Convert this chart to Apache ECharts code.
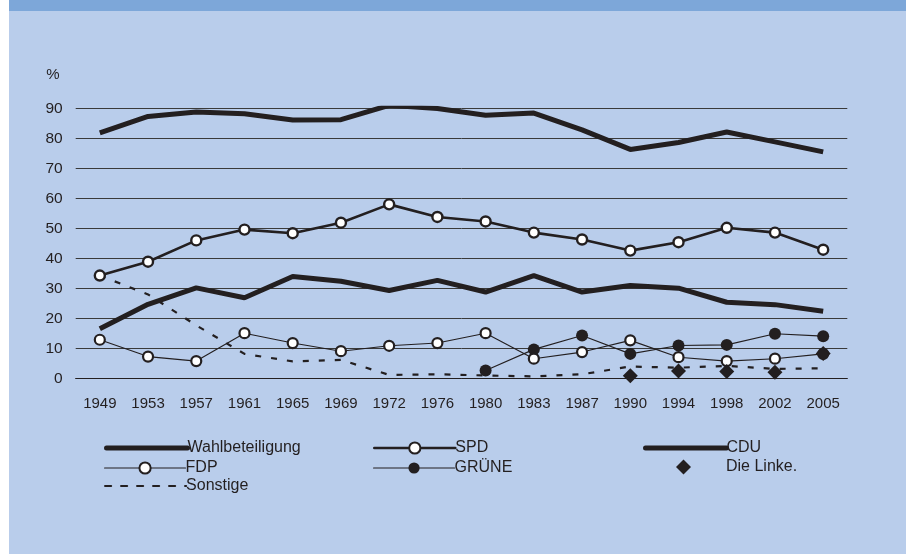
<!DOCTYPE html>
<html>
<head>
<meta charset="utf-8">
<script src="https://cdn.jsdelivr.net/npm/echarts@6/dist/echarts.min.js"></script>
<style>
  html, body { margin: 0; padding: 0; background: #fff; }
  #main { width: 906px; height: 555px; }
</style>
</head>
<body>
<div id="main"></div>
<script>
// Jahre der Bundestagswahlen
var years = ['1949', '1953', '1957', '1961', '1965', '1969', '1972', '1976', '1980', '1983', '1987', '1990', '1994', '1998', '2002', '2005'];
var yTicks = [0, 10, 20, 30, 40, 50, 60, 70, 80, 90];

var wahl = [81.8, 87.3, 88.8, 88.2, 86.1, 86.2, 91.0, 89.9, 87.7, 88.4, 82.8, 76.3, 78.6, 82.1, 78.8, 75.5];
var spd = [34.3, 38.9, 46.0, 49.6, 48.4, 51.9, 58.0, 53.8, 52.3, 48.6, 46.3, 42.6, 45.4, 50.2, 48.6, 42.9];
var cdu = [16.6, 24.7, 30.2, 26.9, 34.0, 32.4, 29.3, 32.7, 28.8, 34.3, 28.8, 31.0, 30.1, 25.4, 24.6, 22.4];
var fdp = [12.9, 7.3, 5.8, 15.1, 11.8, 9.1, 10.9, 11.8, 15.1, 6.6, 8.8, 12.7, 7.1, 5.8, 6.6, 8.2];
var gruene = [null, null, null, null, null, null, null, null, 2.7, 9.7, 14.3, 8.2, 11.0, 11.2, 14.9, 14.1];
var linke = [null, null, null, null, null, null, null, null, null, null, null, 0.9, 2.5, 2.3, 2.1, 8.3];
var sonstige = [34.3, 28.0, 17.7, 8.2, 5.7, 6.2, 1.2, 1.4, 1.0, 0.7, 1.4, 4.0, 3.6, 4.2, 3.2, 3.4];

var ink = '#231f20';
var font = '"Liberation Sans", Arial, sans-serif';

var myChart = echarts.init(document.getElementById('main'));

// eine Legende pro Eintrag, damit das Raster wie im Original aussieht
function legendAt(name, left, top, lineWidth, hideSymbol) {
    var lg = {
        data: [name],
        left: left,
        top: top,
        padding: 0,
        itemWidth: 81,
        itemHeight: 14,
        textStyle: { color: ink, fontSize: 16, fontFamily: font, padding: [0, 0, 0, -5] },
        lineStyle: { width: lineWidth, cap: 'round' }
    };
    if (hideSymbol) lg.itemStyle = { opacity: 0 };
    return lg;
}

var linkeLegend = {
    data: [{ name: 'Die Linke.', icon: 'diamond' }],
    left: 676,
    top: 459,
    padding: 0,
    itemWidth: 15,
    itemHeight: 15,
    textStyle: { color: ink, fontSize: 16, fontFamily: font, padding: [0, 0, 0, 30] }
};

var option = {
    backgroundColor: '#ffffff',
    animation: false,
    graphic: [
        { type: 'rect', left: 9, top: 0, shape: { width: 897, height: 554 }, style: { fill: '#b9cdeb' }, z: -10 },
        { type: 'rect', left: 9, top: 0, shape: { width: 897, height: 11 }, style: { fill: '#7da7d9' }, z: -9 }
    ],
    grid: { left: 75.7, right: 58.7, top: 108.3, bottom: 176.5, containLabel: false },
    legend: [
        legendAt('Wahlbeteiligung', 104, 440, 5, true),
        legendAt('FDP', 104, 460, 1.1, false),
        legendAt('Sonstige', 104, 478, 2.2, true),
        legendAt('SPD', 373, 440, 2.6, false),
        legendAt('GRÜNE', 373, 460, 1.1, false),
        legendAt('CDU', 643, 440, 5, true),
        linkeLegend
    ],
    xAxis: {
        type: 'category',
        data: years,
        axisLine: { lineStyle: { color: ink, width: 1 } },
        axisTick: { length: 5, lineStyle: { color: ink } },
        axisLabel: { color: ink, fontSize: 15, fontFamily: font, margin: 17.5 }
    },
    yAxis: {
        type: 'value',
        min: yTicks[0],
        max: yTicks[yTicks.length - 1],
        interval: 10,
        name: '%',
        nameLocation: 'end',
        nameGap: 26,
        nameTextStyle: { color: ink, fontSize: 15, fontFamily: font, align: 'right', padding: [0, 16, 0, 0] },
        axisLine: { show: false },
        axisTick: { show: false },
        axisLabel: { color: ink, fontSize: 15.5, fontFamily: font, margin: 13 },
        splitLine: { lineStyle: { color: '#3a3a3a', width: 1 } }
    },
    series: [
        {
            name: 'Wahlbeteiligung', type: 'line', data: wahl, symbol: 'none',
            lineStyle: { color: ink, width: 5 }, itemStyle: { color: ink }, z: 3
        },
        {
            name: 'SPD', type: 'line', data: spd, symbol: 'circle', symbolSize: 10,
            lineStyle: { color: ink, width: 2.6 },
            itemStyle: { color: '#ffffff', borderColor: ink, borderWidth: 2.4 }, z: 4
        },
        {
            name: 'CDU', type: 'line', data: cdu, symbol: 'none',
            lineStyle: { color: ink, width: 5 }, itemStyle: { color: ink }, z: 3
        },
        {
            name: 'GRÜNE', type: 'line', data: gruene, symbol: 'circle', symbolSize: 12,
            lineStyle: { color: ink, width: 1.1 },
            itemStyle: { color: ink, borderColor: ink, borderWidth: 0 }, z: 4
        },
        {
            name: 'FDP', type: 'line', data: fdp, symbol: 'circle', symbolSize: 10,
            lineStyle: { color: ink, width: 1.1 },
            itemStyle: { color: '#ffffff', borderColor: ink, borderWidth: 2.2 }, z: 5
        },
        {
            name: 'Sonstige', type: 'line', data: sonstige, symbol: 'none',
            lineStyle: { color: ink, width: 2.2, type: [6, 10] }, itemStyle: { color: ink }, z: 2
        },
        {
            name: 'Die Linke.', type: 'scatter', data: linke, symbol: 'diamond', symbolSize: 15,
            itemStyle: { color: ink, opacity: 1 }, z: 6
        }
    ]
};

myChart.setOption(option);
</script>
</body>
</html>
